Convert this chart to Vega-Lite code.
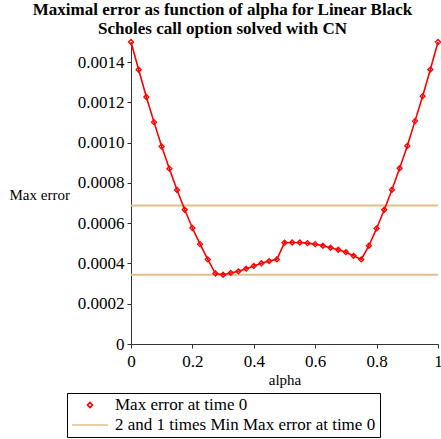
{
  "$schema": "https://vega.github.io/schema/vega-lite/v6.json",
  "autosize": {"type": "none"},
  "padding": {"left": 131, "top": 42, "right": 3, "bottom": 95},
  "width": 307,
  "height": 302,
  "background": "white",
  "config": {
    "view": {"stroke": null},
    "font": "Liberation Serif",
    "axis": {"labelFont": "Liberation Serif", "titleFont": "Liberation Serif", "labelColor": "black", "titleColor": "black", "domainColor": "#333", "tickColor": "#333", "grid": false, "labelFontSize": 17, "titleFontSize": 15, "titleFontWeight": "normal"},
    "legend": {
      "title": null,
      "orient": "none",
      "legendX": -64,
      "legendY": 351,
      "direction": "vertical",
      "strokeColor": "black",
      "padding": 4,
      "labelFont": "Liberation Serif",
      "labelFontSize": 17,
      "labelColor": "black",
      "labelLimit": 400,
      "symbolStrokeWidth": 1.6,
      "symbolOffset": 0,
      "clipHeight": 16,
      "rowPadding": 3,
      "labelOffset": 6
    }
  },
  "title": {
    "text": ["Maximal error as function of alpha for Linear Black", "Scholes call option solved with CN"],
    "font": "Liberation Serif",
    "fontSize": 17,
    "fontWeight": "bold",
    "color": "black",
    "lineHeight": 19,
    "anchor": "middle",
    "dx": -62,
    "offset": -1
  },
  "datasets": {
    "err": [
      {"alpha": 0, "err": 0.00150, "series": "Max error at time 0"},
      {"alpha": 0.025, "err": 0.001362, "series": "Max error at time 0"},
      {"alpha": 0.05, "err": 0.001227, "series": "Max error at time 0"},
      {"alpha": 0.075, "err": 0.001102, "series": "Max error at time 0"},
      {"alpha": 0.1, "err": 0.000981, "series": "Max error at time 0"},
      {"alpha": 0.125, "err": 0.000871, "series": "Max error at time 0"},
      {"alpha": 0.15, "err": 0.000765, "series": "Max error at time 0"},
      {"alpha": 0.175, "err": 0.000667, "series": "Max error at time 0"},
      {"alpha": 0.2, "err": 0.000576, "series": "Max error at time 0"},
      {"alpha": 0.225, "err": 0.000496, "series": "Max error at time 0"},
      {"alpha": 0.25, "err": 0.000420, "series": "Max error at time 0"},
      {"alpha": 0.275, "err": 0.000350, "series": "Max error at time 0"},
      {"alpha": 0.3, "err": 0.000344, "series": "Max error at time 0"},
      {"alpha": 0.325, "err": 0.000353, "series": "Max error at time 0"},
      {"alpha": 0.35, "err": 0.000361, "series": "Max error at time 0"},
      {"alpha": 0.375, "err": 0.000374, "series": "Max error at time 0"},
      {"alpha": 0.4, "err": 0.000388, "series": "Max error at time 0"},
      {"alpha": 0.425, "err": 0.000401, "series": "Max error at time 0"},
      {"alpha": 0.45, "err": 0.000412, "series": "Max error at time 0"},
      {"alpha": 0.475, "err": 0.000420, "series": "Max error at time 0"},
      {"alpha": 0.5, "err": 0.000503, "series": "Max error at time 0"},
      {"alpha": 0.525, "err": 0.000504, "series": "Max error at time 0"},
      {"alpha": 0.55, "err": 0.000504, "series": "Max error at time 0"},
      {"alpha": 0.575, "err": 0.000501, "series": "Max error at time 0"},
      {"alpha": 0.6, "err": 0.000496, "series": "Max error at time 0"},
      {"alpha": 0.625, "err": 0.000488, "series": "Max error at time 0"},
      {"alpha": 0.65, "err": 0.000478, "series": "Max error at time 0"},
      {"alpha": 0.675, "err": 0.000468, "series": "Max error at time 0"},
      {"alpha": 0.7, "err": 0.000456, "series": "Max error at time 0"},
      {"alpha": 0.725, "err": 0.000438, "series": "Max error at time 0"},
      {"alpha": 0.75, "err": 0.000420, "series": "Max error at time 0"},
      {"alpha": 0.775, "err": 0.000488, "series": "Max error at time 0"},
      {"alpha": 0.8, "err": 0.000574, "series": "Max error at time 0"},
      {"alpha": 0.825, "err": 0.000667, "series": "Max error at time 0"},
      {"alpha": 0.85, "err": 0.000766, "series": "Max error at time 0"},
      {"alpha": 0.875, "err": 0.000873, "series": "Max error at time 0"},
      {"alpha": 0.9, "err": 0.000984, "series": "Max error at time 0"},
      {"alpha": 0.925, "err": 0.001107, "series": "Max error at time 0"},
      {"alpha": 0.95, "err": 0.001231, "series": "Max error at time 0"},
      {"alpha": 0.975, "err": 0.001363, "series": "Max error at time 0"},
      {"alpha": 1, "err": 0.00150, "series": "Max error at time 0"}
    ],
    "ref": [
      {"err": 0.000688, "series": "2 and 1 times Min Max error at time 0"},
      {"err": 0.000344, "series": "2 and 1 times Min Max error at time 0"}
    ]
  },
  "layer": [
    {
      "data": {"name": "ref"},
      "mark": {"type": "rule", "strokeWidth": 2},
      "encoding": {
        "y": {"field": "err", "type": "quantitative"},
        "color": {"field": "series", "type": "nominal"}
      }
    },
    {
      "data": {"name": "err"},
      "mark": {"type": "line", "color": "#ff0000", "strokeWidth": 1.6},
      "encoding": {
        "x": {"field": "alpha", "type": "quantitative"},
        "y": {"field": "err", "type": "quantitative"}
      }
    },
    {
      "data": {"name": "err"},
      "mark": {"type": "point", "filled": false, "strokeWidth": 1.3, "opacity": 1},
      "encoding": {
        "x": {
          "field": "alpha", "type": "quantitative",
          "scale": {"domain": [0, 1], "nice": false, "zero": false},
          "axis": {
            "title": "alpha",
            "values": [0, 0.1, 0.2, 0.3, 0.4, 0.5, 0.6, 0.7, 0.8, 0.9, 1],
            "labelExpr": "round(datum.value*10)%2==1 ? '' : '' + datum.value",
            "tickSize": {"condition": {"test": "round(datum.value*10)%2==1", "value": 2}, "value": 4},
            "labelPadding": 5,
            "titlePadding": 3,
            "labelFlush": false,
            "labelOverlap": false
          }
        },
        "y": {
          "field": "err", "type": "quantitative",
          "scale": {"domain": [0, 0.0015], "nice": false},
          "axis": {
            "title": "Max error",
            "titleAngle": 0,
            "titleAlign": "left",
            "titleBaseline": "middle",
            "titleX": -122,
            "titleY": 152,
            "values": [0, 0.0001, 0.0002, 0.0003, 0.0004, 0.0005, 0.0006, 0.0007, 0.0008, 0.0009, 0.001, 0.0011, 0.0012, 0.0013, 0.0014],
            "labelExpr": "datum.value == 0 ? '0' : (round(datum.value*10000)%2==1 ? '' : format(datum.value, '.4f'))",
            "tickSize": {"condition": {"test": "round(datum.value*10000)%2==1", "value": 2}, "value": 4},
            "labelPadding": 3,
            "labelOverlap": false,
            "labelFlush": false
          }
        },
        "color": {
          "field": "series", "type": "nominal",
          "scale": {"domain": ["Max error at time 0", "2 and 1 times Min Max error at time 0"], "range": ["#ff0000", "#E2BD8C"]},
          "legend": {}
        },
        "shape": {
          "field": "series", "type": "nominal",
          "scale": {"domain": ["Max error at time 0", "2 and 1 times Min Max error at time 0"], "range": ["diamond", "stroke"]},
          "legend": {}
        },
        "size": {
          "field": "series", "type": "nominal",
          "scale": {"domain": ["Max error at time 0", "2 and 1 times Min Max error at time 0"], "range": [25, 1300]},
          "legend": {}
        }
      }
    }
  ],
  "resolve": {"scale": {"color": "shared"}}
}
